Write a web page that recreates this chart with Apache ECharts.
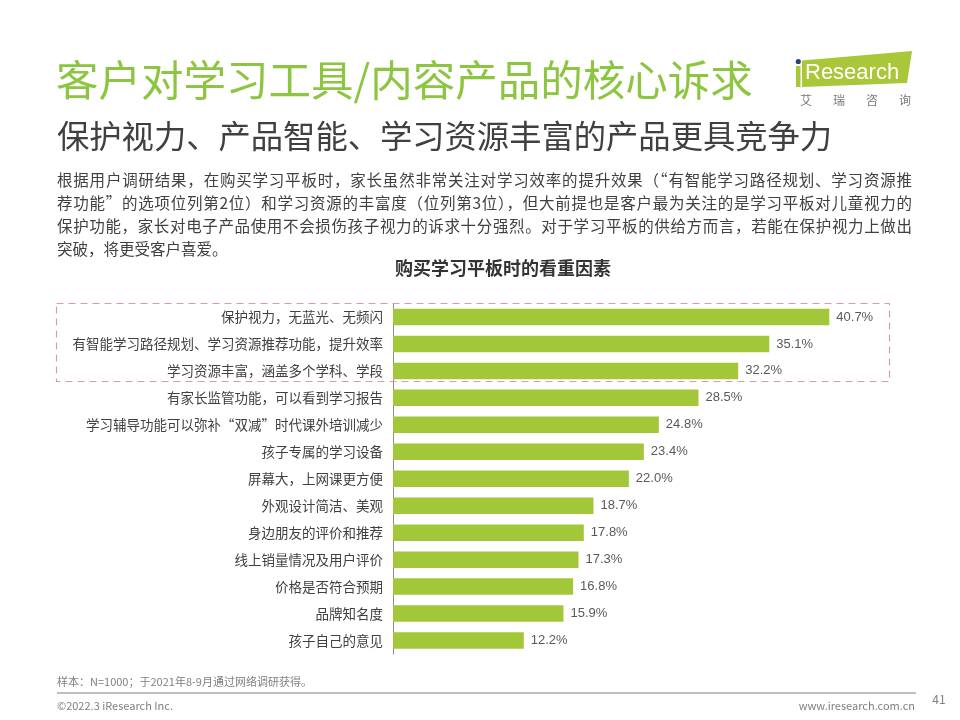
<!DOCTYPE html>
<html>
<head>
<meta charset="utf-8">
<script src="https://cdn.jsdelivr.net/npm/echarts@6/dist/echarts.min.js"></script>
<style>
  html, body { margin: 0; padding: 0; background: #ffffff; }
  #wrap { position: relative; width: 960px; height: 720px; }
  #chart { position: absolute; left: 0; top: 0; width: 960px; height: 720px; }
  #para { position: absolute; left: 57px; top: 168px; width: 855px; font-family: "Noto Sans CJK SC", sans-serif; font-size: 15.5px; line-height: 23px; color: #404040; pointer-events: none; }
  #para div { white-space: nowrap; }
  #para div.j { text-align: justify; text-align-last: justify; white-space: normal; }
</style>
</head>
<body>
<div id="wrap">
  <div id="chart"></div>
  <div id="para"></div>
</div>
<script>
// ---- data ----
var categories = [
  '保护视力，无蓝光、无频闪',
  '有智能学习路径规划、学习资源推荐功能，提升效率',
  '学习资源丰富，涵盖多个学科、学段',
  '有家长监管功能，可以看到学习报告',
  '学习辅导功能可以弥补“双减”时代课外培训减少',
  '孩子专属的学习设备',
  '屏幕大，上网课更方便',
  '外观设计简洁、美观',
  '身边朋友的评价和推荐',
  '线上销量情况及用户评价',
  '价格是否符合预期',
  '品牌知名度',
  '孩子自己的意见'
];
var values = [40.7, 35.1, 32.2, 28.5, 24.8, 23.4, 22.0, 18.7, 17.8, 17.3, 16.8, 15.9, 12.2];

var titleText = '客户对学习工具/内容产品的核心诉求';
var subtitleText = '保护视力、产品智能、学习资源丰富的产品更具竞争力';
var paragraphLines = [
  '根据用户调研结果，在购买学习平板时，家长虽然非常关注对学习效率的提升效果（“有智能学习路径规划、学习资源推',
  '荐功能”的选项位列第2位）和学习资源的丰富度（位列第3位），但大前提也是客户最为关注的是学习平板对儿童视力的',
  '保护功能，家长对电子产品使用不会损伤孩子视力的诉求十分强烈。对于学习平板的供给方而言，若能在保护视力上做出',
  '突破，将更受客户喜爱。'
];
var chartTitle = '购买学习平板时的看重因素';
var noteText = '样本：N=1000；于2021年8-9月通过网络调研获得。';
var copyrightText = '©2022.3 iResearch Inc.';
var siteText = 'www.iresearch.com.cn';
var pageNum = '41';
var logoSub = ['艾', '瑞', '咨', '询'];

var para = document.getElementById('para');
paragraphLines.forEach(function (line, i) {
  var d = document.createElement('div');
  if (i < paragraphLines.length - 1) d.className = 'j';
  d.textContent = line;
  para.appendChild(d);
});

var CJK = '"Noto Sans CJK SC", "Noto Sans", sans-serif';
var chart = echarts.init(document.getElementById('chart'), null, { renderer: 'canvas' });

var logoSubEls = logoSub.map(function (ch, i) {
  return {
    type: 'text', x: 800 + i * 33, y: 100,
    style: { text: ch, font: '12px ' + CJK, fill: '#7a7a7a', textVerticalAlign: 'middle' }
  };
});

var option = {
  backgroundColor: '#ffffff',
  animation: false,
  grid: { left: 393, right: 31, top: 303.5, bottom: 66, containLabel: false },
  xAxis: {
    type: 'value', min: 0, max: 50,
    show: false
  },
  yAxis: {
    type: 'category', data: categories, inverse: true,
    axisLine: { show: true, lineStyle: { color: '#8c8c8c', width: 1 } },
    axisTick: { show: false },
    axisLabel: { color: '#404040', fontSize: 13.5, fontFamily: CJK, margin: 10 }
  },
  series: [{
    type: 'bar',
    data: values,
    barWidth: 16.5,
    itemStyle: { color: '#a2c83a' },
    label: {
      show: true, position: 'right', distance: 7,
      color: '#595959', fontSize: 13, fontFamily: 'Liberation Sans, Arial, sans-serif',
      formatter: function (p) { return p.value.toFixed(1) + '%'; }
    }
  }],
  graphic: [
    { type: 'text', x: 56, y: 80,
      style: { text: titleText, font: '42.5px ' + CJK, fill: '#8cc540', textVerticalAlign: 'middle' } },
    { type: 'text', x: 57, y: 136,
      style: { text: subtitleText, font: '32.3px ' + CJK, fill: '#404040', textVerticalAlign: 'middle' } },
    { type: 'text', x: 503, y: 268,
      style: { text: chartTitle, font: 'bold 18px ' + CJK, fill: '#333333', textAlign: 'center', textVerticalAlign: 'middle' } },
    // dashed highlight box
    { type: 'rect', shape: { x: 56.5, y: 303.5, width: 833, height: 78 },
      style: { fill: 'none', stroke: '#d99aa9', lineWidth: 1.2, lineDash: [7, 5] }, z: 10 },
    // logo
    { type: 'polygon', shape: { points: [[802, 60.5], [912, 51], [907, 83], [802, 87]] },
      style: { fill: '#a8c83a' } },
    { type: 'rect', shape: { x: 796, y: 66, width: 4.5, height: 21 }, style: { fill: '#a8c83a' } },
    { type: 'circle', shape: { cx: 798.3, cy: 61.5, r: 2.6 }, style: { fill: '#23466e' } },
    { type: 'text', x: 805, y: 73,
      style: { text: 'Research', font: '22px "Liberation Sans Narrow", "Liberation Sans", Arial, sans-serif', fill: '#ffffff', textVerticalAlign: 'middle' } }
  ].concat(logoSubEls).concat([
    // footer
    { type: 'text', x: 57, y: 682,
      style: { text: noteText, font: '11px ' + CJK, fill: '#7f7f7f', textVerticalAlign: 'middle' } },
    { type: 'line', shape: { x1: 57, y1: 693, x2: 916, y2: 693 },
      style: { stroke: '#bfbfbf', lineWidth: 2 } },
    { type: 'text', x: 57, y: 706,
      style: { text: copyrightText, font: '11px ' + CJK, fill: '#7f7f7f', textVerticalAlign: 'middle' } },
    { type: 'text', x: 915, y: 706,
      style: { text: siteText, font: '11px ' + CJK, fill: '#7f7f7f', textAlign: 'right', textVerticalAlign: 'middle' } },
    { type: 'text', x: 939, y: 699,
      style: { text: pageNum, font: '12px ' + CJK, fill: '#7f7f7f', textAlign: 'center', textVerticalAlign: 'middle' } }
  ])
};
chart.setOption(option);
</script>
</body>
</html>
